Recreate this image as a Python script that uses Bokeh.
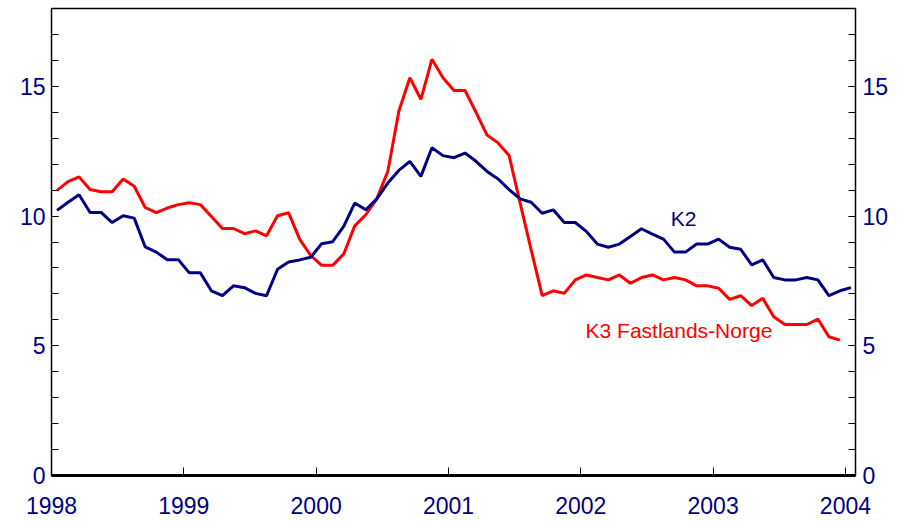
from bokeh.plotting import figure
from bokeh.models import LinearAxis, FixedTicker, Range1d, Label
from bokeh.embed import file_html
from bokeh.resources import INLINE

start_year = 1998
year_ticks = [1998, 1999, 2000, 2001, 2002, 2003, 2004]
y_major = [0, 5, 10, 15]
y_minor = list(range(0, 19))

# K2 monthly, Jan 1998 - Jan 2004
k2 = [10.22, 10.53, 10.82, 10.14, 10.14, 9.75, 10.01, 9.92, 8.81, 8.61, 8.32, 8.32,
      7.81, 7.81, 7.12, 6.93, 7.31, 7.24, 7.02, 6.93, 7.95, 8.23, 8.31, 8.41,
      8.93, 9.01, 9.60, 10.50, 10.24, 10.66, 11.27, 11.76, 12.11, 11.53, 12.63, 12.33,
      12.25, 12.43, 12.11, 11.72, 11.43, 11.02, 10.66, 10.53, 10.11, 10.24, 9.75, 9.75,
      9.41, 8.92, 8.80, 8.92, 9.21, 9.51, 9.30, 9.11, 8.61, 8.61, 8.92, 8.92,
      9.11, 8.80, 8.72, 8.12, 8.31, 7.63, 7.54, 7.54, 7.63, 7.54, 6.93, 7.12, 7.24]
# K3 Fastlands-Norge monthly, Jan 1998 - Dec 2003
k3 = [10.99, 11.33, 11.51, 11.02, 10.94, 10.94, 11.43, 11.15, 10.33, 10.13, 10.31, 10.44,
      10.51, 10.44, 9.98, 9.52, 9.52, 9.32, 9.43, 9.24, 10.01, 10.13, 9.11, 8.49,
      8.10, 8.10, 8.54, 9.62, 10.05, 10.66, 11.72, 14.04, 15.33, 14.50, 16.04, 15.33,
      14.84, 14.84, 14.00, 13.12, 12.82, 12.33, 10.50, 8.70, 6.93, 7.12, 7.02, 7.54,
      7.73, 7.63, 7.54, 7.73, 7.41, 7.63, 7.73, 7.54, 7.63, 7.54, 7.31, 7.31,
      7.22, 6.79, 6.93, 6.55, 6.83, 6.12, 5.82, 5.82, 5.82, 6.03, 5.35, 5.22]

k2_x = [start_year + (i + 0.5) / 12 for i in range(len(k2))]
k3_x = [start_year + (i + 0.5) / 12 for i in range(len(k3))]

NAVY = "#000080"
RED = "#FF0000"
FONT = "Liberation Sans"

p = figure(width=903, height=521, output_backend="svg", toolbar_location=None,
           x_range=Range1d(1998, 2004.076), y_range=Range1d(0, 18),
           min_border_left=51, min_border_right=48, min_border_top=8, min_border_bottom=46,
           background_fill_color="white", border_fill_color="white")
p.xgrid.visible = False
p.ygrid.visible = False
p.outline_line_color = "black"
p.outline_line_width = 1.5

p.line(k3_x, k3, line_color=RED, line_width=3)
p.line(k2_x, k2, line_color=NAVY, line_width=3)

# x axis
xa = p.xaxis[0]
xa.ticker = FixedTicker(ticks=year_ticks)
xa.major_label_overrides = {y: str(y) for y in year_ticks}
xa.major_tick_in = 8
xa.major_tick_out = 0
xa.minor_tick_in = 0
xa.minor_tick_out = 0
xa.axis_line_width = 3
xa.axis_line_color = "black"
xa.major_tick_line_color = "black"
xa.major_label_text_font = FONT
xa.major_label_text_font_size = "23px"
xa.major_label_text_color = NAVY
xa.major_label_standoff = 21

def style_y(ax, standoff):
    ax.ticker = FixedTicker(ticks=y_major, minor_ticks=y_minor)
    ax.major_tick_in = 7
    ax.major_tick_out = 0
    ax.minor_tick_in = 7
    ax.minor_tick_out = 0
    ax.axis_line_color = None
    ax.major_tick_line_color = "black"
    ax.minor_tick_line_color = "black"
    ax.major_label_text_font = FONT
    ax.major_label_text_font_size = "23px"
    ax.major_label_text_color = NAVY
    ax.major_label_standoff = standoff

style_y(p.yaxis[0], 6)
ra = LinearAxis()
style_y(ra, 7)
p.add_layout(ra, "right")

p.add_layout(Label(x=2002.68, y=9.9, text="K2", text_color=NAVY, text_font=FONT,
                   text_font_size="21px", text_align="left", text_baseline="middle"))
p.add_layout(Label(x=2002.036, y=5.57, text="K3 Fastlands-Norge", text_color=RED, text_font=FONT,
                   text_font_size="21px", text_align="left", text_baseline="middle"))

open("out.html", "w").write(file_html(p, INLINE))
